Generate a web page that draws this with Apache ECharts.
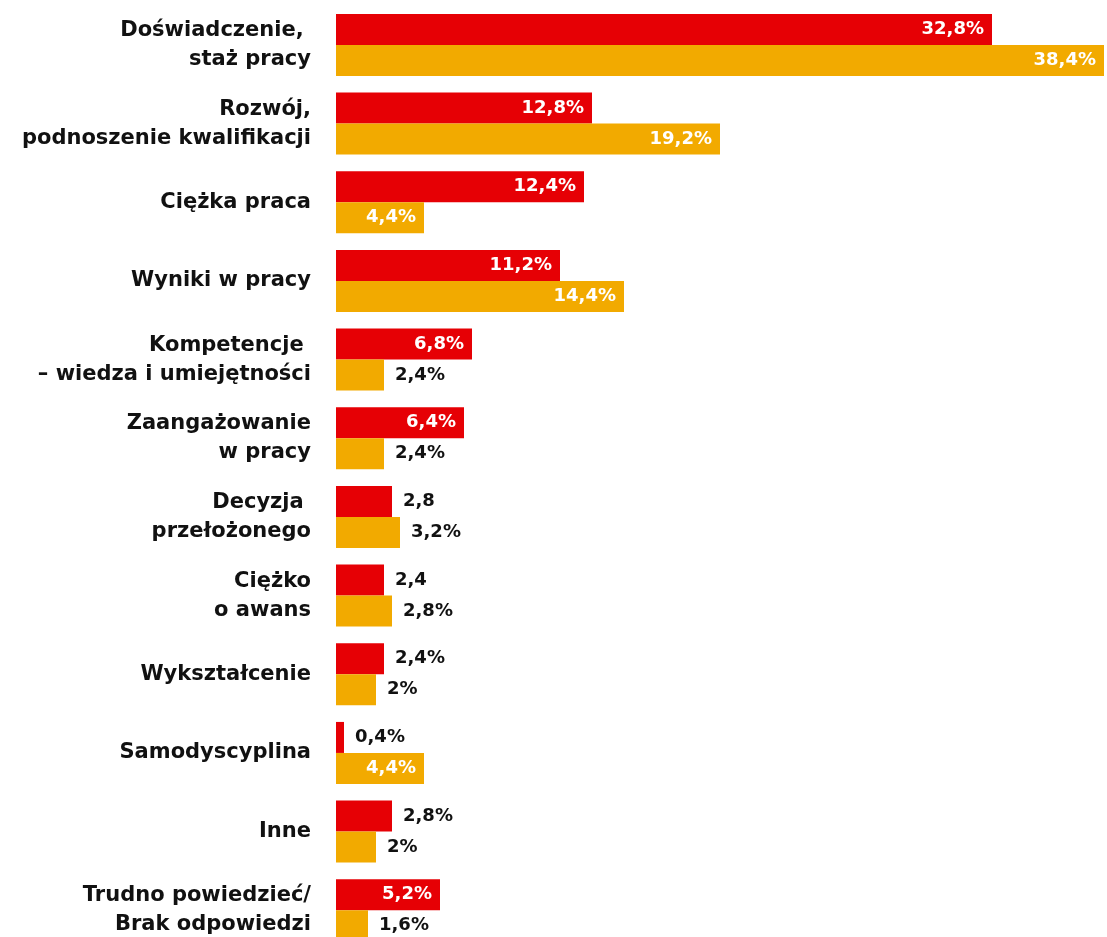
<!DOCTYPE html>
<html>
<head>
<meta charset="utf-8">
<script src="https://cdn.jsdelivr.net/npm/echarts@6/dist/echarts.min.js"></script>
<style>
  html, body { margin: 0; padding: 0; background: #ffffff; overflow: hidden; }
  #chart { width: 1107px; height: 952px; }
</style>
</head>
<body>
<div id="chart"></div>
<script>
// Categories (top to bottom)
const categories = [
  'Doświadczenie, \nstaż pracy',
  'Rozwój,\npodnoszenie kwalifikacji',
  'Ciężka praca',
  'Wyniki w pracy',
  'Kompetencje \n– wiedza i umiejętności',
  'Zaangażowanie\nw pracy',
  'Decyzja \nprzełożonego',
  'Ciężko\no awans',
  'Wykształcenie',
  'Samodyscyplina',
  'Inne',
  'Trudno powiedzieć/\nBrak odpowiedzi'
];

// Values in percent
const redValues = [32.8, 12.8, 12.4, 11.2, 6.8, 6.4, 2.8, 2.4, 2.4, 0.4, 2.8, 5.2];
const orangeValues = [38.4, 19.2, 4.4, 14.4, 2.4, 2.4, 3.2, 2.8, 2, 4.4, 2, 1.6];

// Labels printed without the percent sign
const redNoPercent = [6, 7];
const orangeNoPercent = [];

const RED = '#e60005';
const ORANGE = '#f2aa00';
const FONT = '"DejaVu Sans", sans-serif';
const INSIDE_MIN = 4.4;

function fmt(v, noPct, idx) {
  const s = String(v).replace('.', ',');
  return noPct.indexOf(idx) >= 0 ? s : s + '%';
}

function buildData(values, noPct) {
  return values.map((v, i) => {
    const inside = v >= INSIDE_MIN;
    return {
      value: v,
      label: {
        show: true,
        position: inside ? 'insideRight' : 'right',
        distance: inside ? 8 : 11,
        color: inside ? '#ffffff' : '#111111',
        formatter: fmt(v, noPct, i)
      }
    };
  });
}

const labelBase = {
  fontFamily: FONT,
  fontWeight: 'bold',
  fontSize: 18
};

const chart = echarts.init(document.getElementById('chart'), null, { renderer: 'canvas' });

chart.setOption({
  animation: false,
  backgroundColor: '#ffffff',
  grid: { left: 336, top: 5.6, width: 768, height: 944, containLabel: false },
  xAxis: {
    type: 'value',
    min: 0,
    max: 38.4,
    show: false
  },
  yAxis: {
    type: 'category',
    inverse: true,
    data: categories,
    axisLine: { show: false },
    axisTick: { show: false },
    splitLine: { show: false },
    axisLabel: {
      margin: 25,
      color: '#111111',
      fontFamily: FONT,
      fontWeight: 'bold',
      fontSize: 21,
      lineHeight: 29,
      align: 'right'
    }
  },
  series: [
    {
      name: 'red',
      type: 'bar',
      data: buildData(redValues, redNoPercent),
      barWidth: 31,
      barGap: '0%',
      itemStyle: { color: RED },
      label: labelBase
    },
    {
      name: 'orange',
      type: 'bar',
      data: buildData(orangeValues, orangeNoPercent),
      barWidth: 31,
      barGap: '0%',
      itemStyle: { color: ORANGE },
      label: labelBase
    }
  ]
});
</script>
</body>
</html>
